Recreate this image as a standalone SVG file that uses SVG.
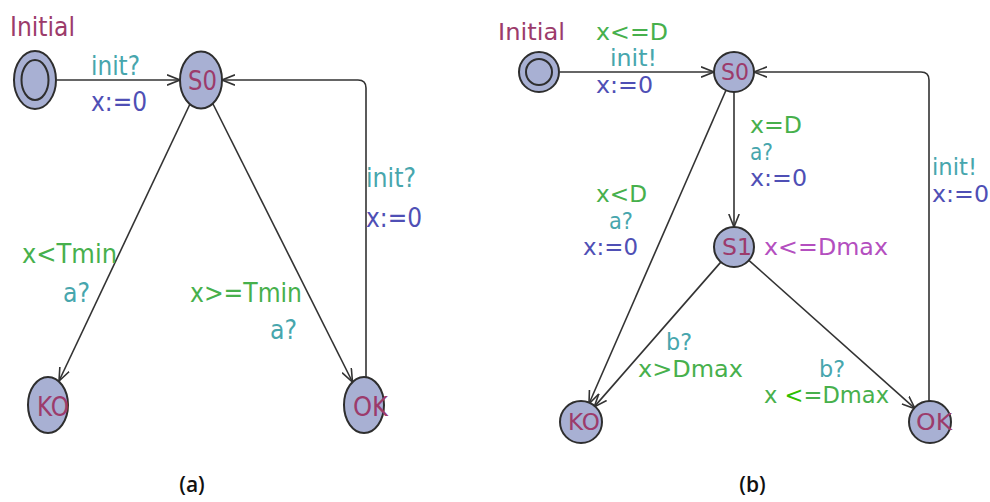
<svg xmlns="http://www.w3.org/2000/svg" width="990" height="502" viewBox="0 0 990 502">
<style>
.node{fill:#a8b0d3;stroke:#2e2e2e;stroke-width:2}
.edge{fill:none;stroke:#333;stroke-width:1.6}
.ca{font-family:"DejaVu Sans Condensed","DejaVu Sans",sans-serif;font-size:27px}
.cb{font-family:"DejaVu Sans",sans-serif;font-size:23px}
.cap{font-family:"Open Sans","Liberation Sans",sans-serif;font-size:21px;font-weight:600;fill:#111}
.nm{fill:#9c3b6b}
.gr{fill:#47b04c}
.te{fill:#47a6ad}
.bl{fill:#4f4fb5}
.mg{fill:#b44fbf}
</style>
<defs>
<marker id="arr" viewBox="0 0 14 12" refX="13" refY="6" markerWidth="14" markerHeight="12" markerUnits="userSpaceOnUse" orient="auto">
<path d="M0,0.8 L13,6 L0,11.2" fill="none" stroke="#333" stroke-width="1.6"/>
</marker>
</defs>
<g id="connectors">
<line class="edge" x1="57" y1="80" x2="180" y2="80" marker-end="url(#arr)"/>
<line class="edge" x1="190" y1="104" x2="59" y2="381" marker-end="url(#arr)"/>
<line class="edge" x1="213" y1="104" x2="352.5" y2="382" marker-end="url(#arr)"/>
<path class="edge" d="M366,377 V88 Q366,80 358,80 H222" marker-end="url(#arr)"/>
<line class="edge" x1="560" y1="72" x2="714" y2="72" marker-end="url(#arr)"/>
<line class="edge" x1="734" y1="92" x2="734" y2="227" marker-end="url(#arr)"/>
<line class="edge" x1="726" y1="90.3" x2="589" y2="403.7" marker-end="url(#arr)"/>
<line class="edge" x1="720.8" y1="262.1" x2="594.2" y2="406.9" marker-end="url(#arr)"/>
<line class="edge" x1="748.9" y1="260.3" x2="915.1" y2="408.7" marker-end="url(#arr)"/>
<path class="edge" d="M929,402 V80 Q929,72 921,72 H754" marker-end="url(#arr)"/>
</g>
<g id="labels-a">
<text class="ca te" x="91" y="75" textLength="49" lengthAdjust="spacingAndGlyphs">init?</text>
<text class="ca bl" x="91" y="111" textLength="56" lengthAdjust="spacingAndGlyphs">x:=0</text>
<text class="ca te" x="366" y="187" textLength="50" lengthAdjust="spacingAndGlyphs">init?</text>
<text class="ca bl" x="366" y="227" textLength="56" lengthAdjust="spacingAndGlyphs">x:=0</text>
<text class="ca gr" x="22" y="263" textLength="95" lengthAdjust="spacingAndGlyphs">x&lt;Tmin</text>
<text class="ca te" x="63" y="302" textLength="27" lengthAdjust="spacingAndGlyphs">a?</text>
<text class="ca gr" x="190" y="302" textLength="112" lengthAdjust="spacingAndGlyphs">x&gt;=Tmin</text>
<text class="ca te" x="270" y="339" textLength="27" lengthAdjust="spacingAndGlyphs">a?</text>
<text class="cap" x="192" y="492" text-anchor="middle">(a)</text>
</g>
<g id="a-Initial">
<ellipse class="node" cx="35" cy="80" rx="21" ry="29"/>
<ellipse class="node" cx="35" cy="80" rx="13.5" ry="20"/>
<text class="ca nm" x="10" y="36" font-size="29" textLength="65" lengthAdjust="spacingAndGlyphs">Initial</text>
</g>
<g id="a-S0">
<ellipse class="node" cx="201" cy="80" rx="21" ry="28.5"/>
<text class="ca nm" x="188" y="90" textLength="29" lengthAdjust="spacingAndGlyphs">S0</text>
</g>
<g id="a-KO">
<ellipse class="node" cx="48" cy="405" rx="20" ry="28"/>
<text class="ca nm" x="37" y="416" textLength="32" lengthAdjust="spacingAndGlyphs">KO</text>
</g>
<g id="a-OK">
<ellipse class="node" cx="364" cy="405" rx="20" ry="28"/>
<text class="ca nm" x="353" y="416" textLength="35" lengthAdjust="spacingAndGlyphs">OK</text>
</g>
<g id="labels-b">
<text class="cb gr" x="596" y="40" textLength="72" lengthAdjust="spacingAndGlyphs">x&lt;=D</text>
<text class="cb te" x="610" y="66" textLength="47" lengthAdjust="spacingAndGlyphs">init!</text>
<text class="cb bl" x="596" y="93" textLength="57" lengthAdjust="spacingAndGlyphs">x:=0</text>
<text class="cb gr" x="750" y="133" textLength="52" lengthAdjust="spacingAndGlyphs">x=D</text>
<text class="cb te" x="750" y="160" textLength="23" lengthAdjust="spacingAndGlyphs">a?</text>
<text class="cb bl" x="750" y="186" textLength="57" lengthAdjust="spacingAndGlyphs">x:=0</text>
<text class="cb te" x="932" y="175" textLength="45" lengthAdjust="spacingAndGlyphs">init!</text>
<text class="cb bl" x="932" y="202" textLength="57" lengthAdjust="spacingAndGlyphs">x:=0</text>
<text class="cb gr" x="596" y="202" textLength="51" lengthAdjust="spacingAndGlyphs">x&lt;D</text>
<text class="cb te" x="609" y="229" textLength="24" lengthAdjust="spacingAndGlyphs">a?</text>
<text class="cb bl" x="583" y="255" textLength="55" lengthAdjust="spacingAndGlyphs">x:=0</text>
<text class="cb mg" x="764" y="255" textLength="124" lengthAdjust="spacingAndGlyphs">x&lt;=Dmax</text>
<text class="cb te" x="666" y="350" textLength="26" lengthAdjust="spacingAndGlyphs">b?</text>
<text class="cb gr" x="638" y="377" textLength="105" lengthAdjust="spacingAndGlyphs">x&gt;Dmax</text>
<text class="cb te" x="819" y="377" textLength="26" lengthAdjust="spacingAndGlyphs">b?</text>
<text class="cb gr" x="764" y="403" textLength="125" lengthAdjust="spacingAndGlyphs">x <tspan fill="#2ec000">&lt;</tspan>=Dmax</text>
<text class="cap" x="752.5" y="492" text-anchor="middle">(b)</text>
</g>
<g id="b-Initial">
<circle class="node" cx="539" cy="72" r="20"/>
<circle class="node" cx="539" cy="72" r="13"/>
<text class="cb nm" x="498" y="40" textLength="67" lengthAdjust="spacingAndGlyphs">Initial</text>
</g>
<g id="b-S0">
<circle class="node" cx="734" cy="72" r="20"/>
<text class="cb nm" x="721" y="80" textLength="28" lengthAdjust="spacingAndGlyphs">S0</text>
</g>
<g id="b-S1">
<circle class="node" cx="734" cy="247" r="20"/>
<text class="cb nm" x="722" y="255" textLength="30" lengthAdjust="spacingAndGlyphs">S1</text>
</g>
<g id="b-KO">
<circle class="node" cx="581" cy="422" r="21"/>
<text class="cb nm" x="568" y="430" textLength="32" lengthAdjust="spacingAndGlyphs">KO</text>
</g>
<g id="b-OK">
<circle class="node" cx="930" cy="422" r="21"/>
<text class="cb nm" x="916" y="430" textLength="36" lengthAdjust="spacingAndGlyphs">OK</text>
</g>
</svg>
